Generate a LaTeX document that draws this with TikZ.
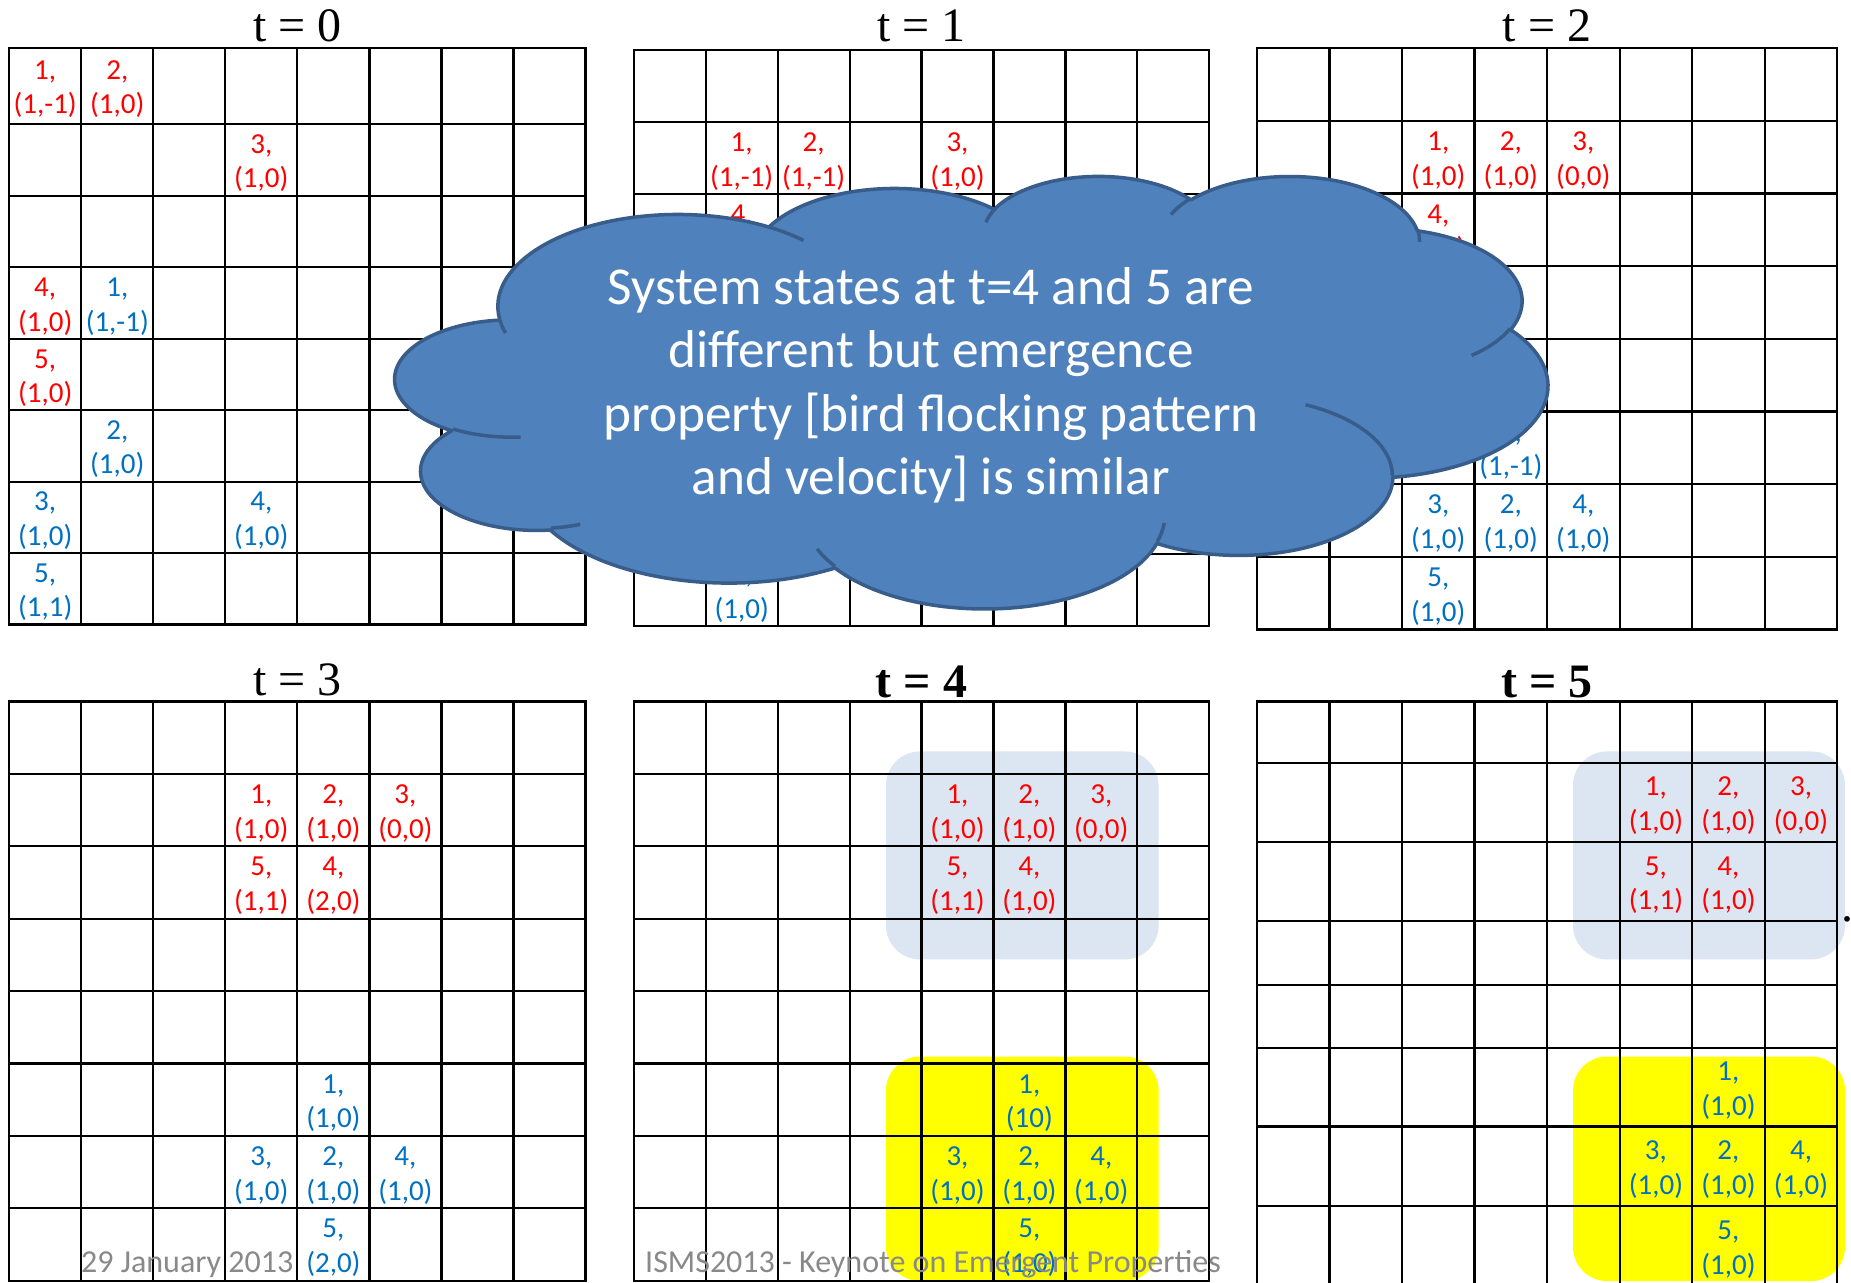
\documentclass[tikz,border=0pt]{standalone}
\usepackage{fontspec}
\setmainfont{Liberation Serif}
\newfontfamily\calib{Carlito}
\definecolor{cellred}{HTML}{FF0000}
\definecolor{cellblue}{HTML}{0070C0}
\definecolor{hlblue}{HTML}{DCE6F2}
\definecolor{hlyellow}{HTML}{FFFF00}
\definecolor{cloudfill}{HTML}{4F81BD}
\definecolor{cloudline}{HTML}{385D8A}
\definecolor{footgray}{HTML}{898989}

\newcommand\cldcalc[5]{%
  \pgfmathsetmacro\cldtmpa{atan2((#2)*sin(#4),(#3)*cos(#4))}%
  \pgfmathsetmacro\cldtmpb{atan2((#2)*sin((#4)+(#5)),(#3)*cos((#4)+(#5)))}%
  \pgfmathsetmacro\cldtmpc{mod(\cldtmpb-(\cldtmpa)+720,360)}%
  \expandafter\xdef\csname clds#1\endcsname{\cldtmpa}%
  \expandafter\xdef\csname cldd#1\endcsname{\cldtmpc}%
}
% outer outline
\cldcalc{A}{67.53}{91.90}{-190.48748}{123.78053}
\cldcalc{B}{53.33}{72.67}{-144.10238}{89.94523}
\cldcalc{C}{43.65}{59.45}{-145.80792}{99.72302}
\cldcalc{D}{48.57}{65.95}{-130.98607}{117.24173}
\cldcalc{E}{53.33}{72.73}{-78.70888}{109.02692}
\cldcalc{F}{67.75}{92.20}{-46.26725}{130.26900}
\cldcalc{G}{57.85}{78.67}{0.62502}{114.03333}
\cldcalc{H}{67.52}{92.15}{22.45160}{115.17255}
\cldcalc{I}{77.20}{105.43}{66.24263}{75.71102}
\cldcalc{J}{43.60}{59.18}{-274.94208}{146.73557}
\cldcalc{K}{43.45}{59.45}{-246.82850}{152.51885}
% inner arcs
\cldcalc{L}{43.45}{59.45}{86.74200}{26.42950}
\cldcalc{M}{43.60}{59.18}{73.61047}{11.44747}
\cldcalc{N}{67.52}{92.15}{137.62415}{14.08110}
\cldcalc{O}{67.52}{92.15}{6.45327}{15.99835}
\cldcalc{P}{57.85}{78.67}{-70.29235}{70.91737}
\cldcalc{Q}{53.33}{72.73}{30.31803}{27.75150}
\cldcalc{R}{48.57}{65.95}{-13.74433}{14.85890}
\cldcalc{S}{48.57}{65.95}{-149.18145}{18.19537}
\cldcalc{T}{43.65}{59.45}{-163.49427}{17.68635}
\cldcalc{U}{67.53}{91.90}{-66.70695}{12.31935}
\cldcalc{V}{67.53}{91.90}{157.65435}{11.85817}

\newcommand\cellnode[6]{\node[#1] (#2) at (#3,{#4-6.5}) {\begin{tabular}[t]{@{}c@{}}#5,\\#6\end{tabular}};}
\newcommand\drawgrid[6]{%
  \foreach \gxx in {#1} {\draw[gridline] (\gxx,#5) -- (\gxx,#6);}
  \foreach \gyy in {#2} {\draw[gridline] (#3,\gyy) -- (#4,\gyy);}
}

\tikzset{
  gridline/.style={line width=2.2pt, draw=black, line cap=rect},
  celltext/.style={anchor=base, inner sep=0pt, font=\calib\fontsize{29}{34.5}\selectfont},
  redtxt/.style={celltext, text=cellred},
  bluetxt/.style={celltext, text=cellblue},
  title/.style={anchor=base, inner sep=0pt, font=\fontsize{48}{57}\selectfont},
  titlebold/.style={anchor=base, inner sep=0pt, font=\fontsize{48}{57}\selectfont\bfseries},
  hlbluebox/.style={fill=hlblue, rounded corners=34pt},
  hlyellowbox/.style={fill=hlyellow, rounded corners=34pt},
  cloudshape/.style={fill=cloudfill, draw=cloudline, line width=3.5pt, line join=round},
  cloudinner/.style={draw=cloudline, line width=3.5pt},
  cloudtext/.style={anchor=base, inner sep=0pt, text=white, font=\calib\fontsize{53.3}{63.5}\selectfont},
  foot/.style={inner sep=0pt, text=footgray, font=\calib\fontsize{32}{38}\selectfont},
}

\begin{document}
\begin{tikzpicture}[x=1pt, y=-1pt]
\useasboundingbox (0,0) rectangle (1851,1282);
\fill[white] (0,0) rectangle (1851,1282);
\clip (0,0) rectangle (1851,1282);

% ---------- highlight boxes ----------
\fill[hlbluebox] (886,751.4) rectangle (1158.6,959.4);
\fill[hlyellowbox] (886,1056.5) rectangle (1158.6,1281);
\fill[hlbluebox] (1573,751.4) rectangle (1845,959.4);
\fill[hlyellowbox] (1573,1056.5) rectangle (1845,1281);

% ---------- grids ----------
\drawgrid{9.2,81.24,153.28,225.32,297.36,369.4,441.44,513.48,585.5}{47.8,123.7,195.9,267.3,338.8,410.2,481.6,553,624.5}{9.2}{585.5}{47.8}{624.5}
\drawgrid{633.8,705.7,777.7,849.6,921.5,993.5,1065.4,1137.3,1209.2}{50,122,194,266,338,410,482,554,626}{633.8}{1209.2}{50}{626}
\drawgrid{1256.9,1329.4,1402.0,1474.5,1547.1,1619.6,1692.1,1764.7,1837.2}{48.2,120.9,193.5,266.2,338.8,411.5,484.1,556.8,629.4}{1256.9}{1837.2}{48.2}{629.4}
\drawgrid{9.2,81.24,153.28,225.32,297.36,369.4,441.44,513.48,585.5}{701.4,773.8,846.2,918.6,991.0,1063.4,1135.8,1208.2,1280.6}{9.2}{585.5}{701.4}{1280.6}
\drawgrid{633.8,705.7,777.7,849.6,921.5,993.5,1065.4,1137.3,1209.2}{701.4,773.8,846.2,918.6,991.0,1063.4,1135.8,1208.2,1280.6}{633.8}{1209.2}{701.4}{1280.6}
\drawgrid{1256.9,1329.4,1402.0,1474.5,1547.1,1619.6,1692.1,1764.7,1837.2}{701.4,762.9,841.9,921.3,984.8,1048.3,1126.5,1206.3,1286}{1256.9}{1837.2}{701.4}{1286}

% ---------- titles ----------
\node[title] (t0) at (297.4,41) {t = 0};
\node[title] (t1) at (921.5,41) {t = 1};
\node[title] (t2) at (1547,41) {t = 2};
\node[title] (t3) at (297.4,695.5) {t = 3};
\node[titlebold] (t4) at (921.5,697) {t = 4};
\node[titlebold] (t5) at (1547,697) {t = 5};
\node[title] (dot) at (1847,921) {.};

% ---------- t = 0 ----------
\cellnode{redtxt}{a1}{45.2}{85.75}{1}{(1,-1)}
\cellnode{redtxt}{a2}{117.3}{85.75}{2}{(1,0)}
\cellnode{redtxt}{a3}{261.3}{159.8}{3}{(1,0)}
\cellnode{redtxt}{a4}{45.2}{303.05}{4}{(1,0)}
\cellnode{bluetxt}{a5}{117.3}{303.05}{1}{(1,-1)}
\cellnode{redtxt}{a6}{45.2}{374.5}{5}{(1,0)}
\cellnode{bluetxt}{a7}{117.3}{445.9}{2}{(1,0)}
\cellnode{bluetxt}{a8}{45.2}{517.3}{3}{(1,0)}
\cellnode{bluetxt}{a9}{261.3}{517.3}{4}{(1,0)}
\cellnode{bluetxt}{a10}{45.2}{588.75}{5}{(1,1)}

% ---------- t = 1 ----------
\cellnode{redtxt}{b1}{741.7}{158}{1}{(1,-1)}
\cellnode{redtxt}{b2}{813.6}{158}{2}{(1,-1)}
\cellnode{redtxt}{b3}{957.5}{158}{3}{(1,0)}
\cellnode{redtxt}{b4}{741.7}{230}{4}{(1,0)}
\cellnode{bluetxt}{b5}{741.7}{590}{5}{(1,0)}

% ---------- t = 2 ----------
\cellnode{redtxt}{c1}{1438.3}{157.2}{1}{(1,0)}
\cellnode{redtxt}{c2}{1510.8}{157.2}{2}{(1,0)}
\cellnode{redtxt}{c3}{1583.3}{157.2}{3}{(0,0)}
\cellnode{redtxt}{c4}{1438.3}{229.8}{4}{(1,0)}
\cellnode{bluetxt}{c5}{1510.8}{447.8}{1}{(1,-1)}
\cellnode{bluetxt}{c6}{1438.3}{520.4}{3}{(1,0)}
\cellnode{bluetxt}{c7}{1510.8}{520.4}{2}{(1,0)}
\cellnode{bluetxt}{c8}{1583.3}{520.4}{4}{(1,0)}
\cellnode{bluetxt}{c9}{1438.3}{593.1}{5}{(1,0)}

% ---------- t = 3 ----------
\cellnode{redtxt}{d1}{261.3}{810}{1}{(1,0)}
\cellnode{redtxt}{d2}{333.4}{810}{2}{(1,0)}
\cellnode{redtxt}{d3}{405.4}{810}{3}{(0,0)}
\cellnode{redtxt}{d4}{261.3}{882.4}{5}{(1,1)}
\cellnode{redtxt}{d5}{333.4}{882.4}{4}{(2,0)}
\cellnode{bluetxt}{d6}{333.4}{1099.6}{1}{(1,0)}
\cellnode{bluetxt}{d7}{261.3}{1172}{3}{(1,0)}
\cellnode{bluetxt}{d8}{333.4}{1172}{2}{(1,0)}
\cellnode{bluetxt}{d9}{405.4}{1172}{4}{(1,0)}
\cellnode{bluetxt}{d10}{333.4}{1244.4}{5}{(2,0)}

% ---------- t = 4 ----------
\cellnode{redtxt}{e1}{957.5}{810}{1}{(1,0)}
\cellnode{redtxt}{e2}{1029.4}{810}{2}{(1,0)}
\cellnode{redtxt}{e3}{1101.3}{810}{3}{(0,0)}
\cellnode{redtxt}{e4}{957.5}{882.4}{5}{(1,1)}
\cellnode{redtxt}{e5}{1029.4}{882.4}{4}{(1,0)}
\cellnode{bluetxt}{e6}{1029.4}{1099.6}{1}{(10)}
\cellnode{bluetxt}{e7}{957.5}{1172}{3}{(1,0)}
\cellnode{bluetxt}{e8}{1029.4}{1172}{2}{(1,0)}
\cellnode{bluetxt}{e9}{1101.3}{1172}{4}{(1,0)}
\cellnode{bluetxt}{e10}{1029.4}{1244.4}{5}{(1,0)}

% ---------- t = 5 ----------
\cellnode{redtxt}{f1}{1655.9}{802.4}{1}{(1,0)}
\cellnode{redtxt}{f2}{1728.4}{802.4}{2}{(1,0)}
\cellnode{redtxt}{f3}{1801}{802.4}{3}{(0,0)}
\cellnode{redtxt}{f4}{1655.9}{881.6}{5}{(1,1)}
\cellnode{redtxt}{f5}{1728.4}{881.6}{4}{(1,0)}
\cellnode{bluetxt}{f6}{1728.4}{1087.4}{1}{(1,0)}
\cellnode{bluetxt}{f7}{1655.9}{1166.4}{3}{(1,0)}
\cellnode{bluetxt}{f8}{1728.4}{1166.4}{2}{(1,0)}
\cellnode{bluetxt}{f9}{1801}{1166.4}{4}{(1,0)}
\cellnode{bluetxt}{f10}{1728.4}{1246.2}{5}{(1,0)}

% ---------- footer ----------
\node[foot, anchor=base west] (date) at (81,1272) {29 January 2013};
\node[foot, anchor=base] (conf) at (933,1272) {ISMS2013 - Keynote on Emergent Properties};

% ---------- cloud ----------
\begin{scope}[shift={(395.5,175)}, x=2.66667pt, y=-1.0009pt]
\filldraw[cloudshape] (39.00,143.70)
  arc[start angle=\cldsA, delta angle=\clddA, x radius=67.53, y radius=91.90]
  arc[start angle=\cldsB, delta angle=\clddB, x radius=53.33, y radius=72.67]
  arc[start angle=\cldsC, delta angle=\clddC, x radius=43.65, y radius=59.45]
  arc[start angle=\cldsD, delta angle=\clddD, x radius=48.57, y radius=65.95]
  arc[start angle=\cldsE, delta angle=\clddE, x radius=53.33, y radius=72.73]
  arc[start angle=\cldsF, delta angle=\clddF, x radius=67.75, y radius=92.20]
  arc[start angle=\cldsG, delta angle=\clddG, x radius=57.85, y radius=78.67]
  arc[start angle=\cldsH, delta angle=\clddH, x radius=67.52, y radius=92.15]
  arc[start angle=\cldsI, delta angle=\clddI, x radius=77.20, y radius=105.43]
  arc[start angle=\cldsJ, delta angle=\clddJ, x radius=43.60, y radius=59.18]
  arc[start angle=\cldsK, delta angle=\clddK, x radius=43.45, y radius=59.45]
  -- cycle;
\draw[cloudinner] (46.93,261.77) arc[start angle=\cldsL, delta angle=\clddL, x radius=43.45, y radius=59.45];
\draw[cloudinner] (69.28,348.99) arc[start angle=\cldsM, delta angle=\clddM, x radius=43.60, y radius=59.18];
\draw[cloudinner] (164.78,390.90) arc[start angle=\cldsN, delta angle=\clddN, x radius=67.52, y radius=92.15];
\draw[cloudinner] (288.27,347.51) arc[start angle=\cldsO, delta angle=\clddO, x radius=67.52, y radius=92.15];
\draw[cloudinner] (341.29,229.54) arc[start angle=\cldsP, delta angle=\clddP, x radius=57.85, y radius=78.67];
\draw[cloudinner] (417.98,153.54) arc[start angle=\cldsQ, delta angle=\clddQ, x radius=53.33, y radius=72.73];
\draw[cloudinner] (383.24,54.26) arc[start angle=\cldsR, delta angle=\clddR, x radius=48.57, y radius=65.95];
\draw[cloudinner] (290.78,39.52) arc[start angle=\cldsS, delta angle=\clddS, x radius=48.57, y radius=65.95];
\draw[cloudinner] (221.41,47.20) arc[start angle=\cldsT, delta angle=\clddT, x radius=43.65, y radius=59.45];
\draw[cloudinner] (140.00,51.92) arc[start angle=\cldsU, delta angle=\clddU, x radius=67.53, y radius=91.90];
\draw[cloudinner] (41.27,157.89) arc[start angle=\cldsV, delta angle=\clddV, x radius=67.53, y radius=91.90];
\end{scope}

\node[cloudtext] (cloudtxt) at (931,304) {\begin{tabular}[t]{@{}c@{}}System states at t=4 and 5 are\\different but emergence\\property [bird flocking pattern\\and velocity] is similar\end{tabular}};
\end{tikzpicture}
\end{document}
